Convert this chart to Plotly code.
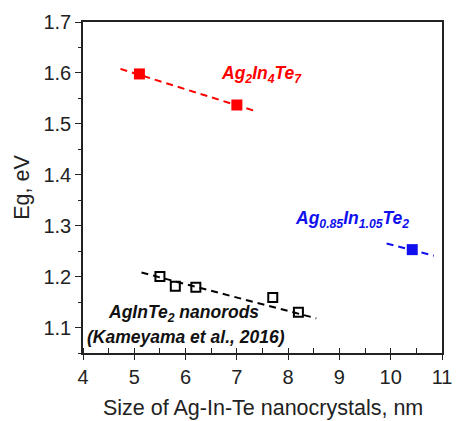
import plotly.graph_objects as go

# Ag2In4Te7 (red)
red_x = [5.1, 7.0]
red_y = [1.598, 1.537]
red_fit_x = [4.73, 7.36]
red_fit_y = [1.608, 1.525]

# Ag0.85In1.05Te2 (blue)
blue_x = [10.42]
blue_y = [1.253]
blue_fit_x = [9.92, 10.84]
blue_fit_y = [1.265, 1.241]

# AgInTe2 nanorods (black, Kameyama et al., 2016)
blk_x = [5.5, 5.8, 6.2, 7.7, 8.2]
blk_y = [1.200, 1.181, 1.179, 1.159, 1.130]
blk_fit_x = [5.14, 8.55]
blk_fit_y = [1.208, 1.118]

x_title = "Size of Ag-In-Te nanocrystals, nm"
y_title = "Eg, eV"

FONT = "Liberation Sans, Arial, sans-serif"
RED = "#ff0000"
BLUE = "#1010ee"
BLACK = "#000000"

fig = go.Figure()

for fx, fy, c in [(red_fit_x, red_fit_y, RED), (blue_fit_x, blue_fit_y, BLUE), (blk_fit_x, blk_fit_y, BLACK)]:
    fig.add_trace(go.Scatter(x=fx, y=fy, mode="lines",
                             line=dict(color=c, width=2, dash="7px,5px"),
                             showlegend=False, hoverinfo="skip"))

fig.add_trace(go.Scatter(x=red_x, y=red_y, mode="markers",
                         marker=dict(symbol="square", size=11, color=RED),
                         showlegend=False))
fig.add_trace(go.Scatter(x=blue_x, y=blue_y, mode="markers",
                         marker=dict(symbol="square", size=11, color=BLUE),
                         showlegend=False))
fig.add_trace(go.Scatter(x=blk_x, y=blk_y, mode="markers",
                         marker=dict(symbol="square-open", size=9, color=BLACK,
                                     line=dict(width=2, color=BLACK)),
                         showlegend=False))

ann_font = dict(family=FONT, size=17.5)
fig.add_annotation(x=7.48, y=1.597, text="<b><i>Ag<sub>2</sub>In<sub>4</sub>Te<sub>7</sub></i></b>",
                   showarrow=False, font=dict(ann_font, color=RED), xanchor="center", yanchor="middle")
fig.add_annotation(x=9.24, y=1.313, text="<b><i>Ag<sub>0.85</sub>In<sub>1.05</sub>Te<sub>2</sub></i></b>",
                   showarrow=False, font=dict(ann_font, color=BLUE), xanchor="center", yanchor="middle")
fig.add_annotation(x=5.96, y=1.128, text="<b><i>AgInTe<sub>2</sub> nanorods</i></b>",
                   showarrow=False, font=dict(ann_font, color="#111111"), xanchor="center", yanchor="middle")
fig.add_annotation(x=6.0, y=1.081, text="<b><i>(Kameyama et al., 2016)</i></b>",
                   showarrow=False, font=dict(ann_font, color="#111111"), xanchor="center", yanchor="middle")

# x-axis title placed precisely below the tick labels
fig.add_annotation(x=0.5, y=-0.166, xref="paper", yref="paper", text=x_title,
                   showarrow=False, font=dict(family=FONT, size=21.5, color="#222222"),
                   xanchor="center", yanchor="middle")

axis_common = dict(showline=True, linecolor="#222222", linewidth=1.5, mirror=True,
                   showgrid=False, zeroline=False,
                   tickfont=dict(family=FONT, size=20, color="#222222"),
                   tickcolor="#222222", tickwidth=1.2)

fig.update_xaxes(range=[4, 11], tickvals=[4, 5, 6, 7, 8, 9, 10, 11],
                 ticks="outside", ticklen=5,
                 minor=dict(dtick=0.5, ticks="inside", ticklen=5, tickcolor="#222222", tickwidth=1.2),
                 **axis_common)
fig.update_yaxes(range=[1.05, 1.7], tickvals=[1.1, 1.2, 1.3, 1.4, 1.5, 1.6, 1.7],
                 ticktext=["1.1", "1.2", "1.3", "1.4", "1.5", "1.6", "1.7"],
                 ticks="outside", ticklen=6,
                 minor=dict(dtick=0.05, ticks="outside", ticklen=3, tickcolor="#222222", tickwidth=1.2),
                 title=dict(text=y_title, font=dict(family=FONT, size=21.5, color="#222222"), standoff=8),
                 **axis_common)

fig.update_layout(width=463, height=421, margin=dict(l=83, r=11, t=21, b=68),
                  plot_bgcolor="white", paper_bgcolor="white", showlegend=False)

fig.write_html("out.html")
